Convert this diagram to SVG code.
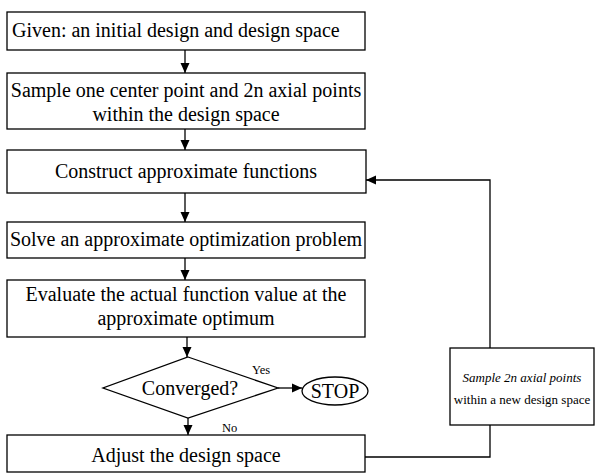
<svg xmlns="http://www.w3.org/2000/svg" width="595" height="475" viewBox="0 0 595 475">
  <style>
    .box { fill: #ffffff; stroke: #000000; stroke-width: 1.3; }
    .txt { font-family: "Liberation Serif", "Times New Roman", serif; font-size: 20px; fill: #000000; }
    .small { font-family: "Liberation Serif", "Times New Roman", serif; font-size: 12.5px; fill: #000000; }
    .side { font-family: "Liberation Serif", "Times New Roman", serif; font-size: 13px; fill: #000000; }
    .conn { fill: none; stroke: #000000; stroke-width: 1.3; }
  </style>
  <defs>
    <marker id="arrow" markerUnits="userSpaceOnUse" markerWidth="10" markerHeight="10" viewBox="0 0 10 10" refX="10" refY="5" orient="auto">
      <path d="M0,0.5 L10,5 L0,9.5 Z" fill="#000000"/>
    </marker>
  </defs>
  <rect width="595" height="475" fill="#ffffff"/>

  <!-- flow connectors -->
  <g id="connectors">
    <line class="conn" x1="185" y1="50" x2="185" y2="73" marker-end="url(#arrow)"/>
    <line class="conn" x1="185" y1="129" x2="185" y2="150" marker-end="url(#arrow)"/>
    <line class="conn" x1="185" y1="193" x2="185" y2="222" marker-end="url(#arrow)"/>
    <line class="conn" x1="185" y1="258" x2="185" y2="280" marker-end="url(#arrow)"/>
    <line class="conn" x1="187" y1="337" x2="187" y2="357" marker-end="url(#arrow)"/>
    <line class="conn" x1="278" y1="388" x2="302" y2="388" marker-end="url(#arrow)"/>
    <line class="conn" x1="188" y1="418" x2="188" y2="435" marker-end="url(#arrow)"/>
    <polyline class="conn" points="365,457 490,457 490,425"/>
    <polyline class="conn" points="490,348 490,180 366,180" marker-end="url(#arrow)"/>
    <text class="small" x="252" y="374">Yes</text>
    <text class="small" x="222" y="432">No</text>
  </g>

  <g id="given">
    <rect class="box" x="7" y="12" width="358" height="38"/>
    <text class="txt" x="12" y="37">Given: an initial design and design space</text>
  </g>

  <g id="sample">
    <rect class="box" x="7" y="73" width="358" height="56"/>
    <text class="txt" x="186" y="97" text-anchor="middle">Sample one center point and 2n axial points</text>
    <text class="txt" x="186" y="121" text-anchor="middle">within the design space</text>
  </g>

  <g id="construct">
    <rect class="box" x="7" y="150" width="359" height="43"/>
    <text class="txt" x="186" y="178" text-anchor="middle">Construct approximate functions</text>
  </g>

  <g id="solve">
    <rect class="box" x="7" y="222" width="358" height="36"/>
    <text class="txt" x="186" y="246" text-anchor="middle">Solve an approximate optimization problem</text>
  </g>

  <g id="evaluate">
    <rect class="box" x="7" y="280" width="358" height="57"/>
    <text class="txt" x="186" y="301" text-anchor="middle">Evaluate the actual function value at the</text>
    <text class="txt" x="186" y="325" text-anchor="middle">approximate optimum</text>
  </g>

  <g id="converged">
    <polygon class="box" points="188,357 278,388 188,418 103,388"/>
    <text class="txt" x="190" y="395" text-anchor="middle">Converged?</text>
  </g>

  <g id="stop">
    <ellipse class="box" cx="335" cy="391" rx="33" ry="14"/>
    <text class="txt" x="335" y="398" text-anchor="middle">STOP</text>
  </g>

  <g id="adjust">
    <rect class="box" x="7" y="435" width="358" height="37"/>
    <text class="txt" x="186" y="462" text-anchor="middle">Adjust the design space</text>
  </g>

  <g id="resample">
    <rect class="box" x="450" y="348" width="144" height="77"/>
    <text class="side" x="522" y="382" text-anchor="middle" font-style="italic">Sample 2n axial points</text>
    <text class="side" x="522" y="404" text-anchor="middle">within a new design space</text>
  </g>
</svg>
